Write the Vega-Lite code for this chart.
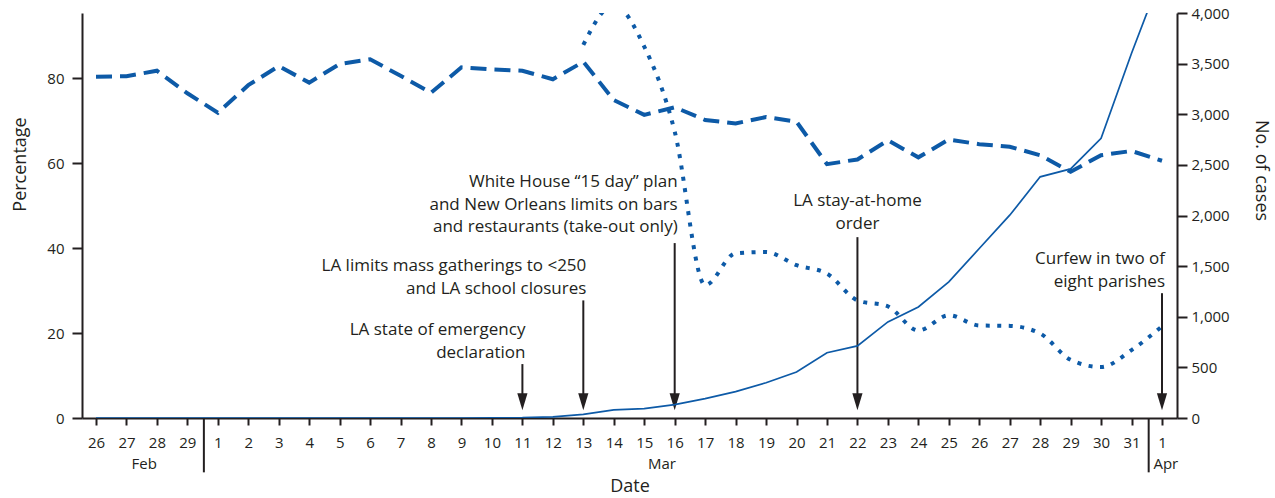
{
  "$schema": "https://vega.github.io/schema/vega-lite/v6.json",
  "width": 1095,
  "height": 405,
  "autosize": {"type": "none"},
  "padding": {"left": 82, "top": 13, "right": 98, "bottom": 80},
  "background": "white",
  "config": {
    "view": {"stroke": null},
    "font": "Open Sans",
    "axis": {
      "grid": false,
      "domainColor": "#231f20",
      "domainWidth": 2,
      "tickColor": "#231f20",
      "tickWidth": 2,
      "labelColor": "#231f20",
      "labelFont": "Open Sans",
      "labelFontSize": 15,
      "titleColor": "#231f20",
      "titleFont": "Open Sans",
      "titleFontSize": 18,
      "titleFontWeight": "normal"
    }
  },
  "datasets": {
    "series": [
      {"date": "2020-02-26", "pctA": 80.4, "pctB": null, "cases": 0},
      {"date": "2020-02-27", "pctA": 80.5, "pctB": null, "cases": 0},
      {"date": "2020-02-28", "pctA": 81.8, "pctB": null, "cases": 0},
      {"date": "2020-02-29", "pctA": 76.5, "pctB": null, "cases": 0},
      {"date": "2020-03-01", "pctA": 71.9, "pctB": null, "cases": 0},
      {"date": "2020-03-02", "pctA": 78.4, "pctB": null, "cases": 0},
      {"date": "2020-03-03", "pctA": 82.9, "pctB": null, "cases": 0},
      {"date": "2020-03-04", "pctA": 79.0, "pctB": null, "cases": 0},
      {"date": "2020-03-05", "pctA": 83.4, "pctB": null, "cases": 0},
      {"date": "2020-03-06", "pctA": 84.5, "pctB": null, "cases": 0},
      {"date": "2020-03-07", "pctA": 80.6, "pctB": null, "cases": 0},
      {"date": "2020-03-08", "pctA": 76.6, "pctB": null, "cases": 0},
      {"date": "2020-03-09", "pctA": 82.6, "pctB": null, "cases": 0},
      {"date": "2020-03-10", "pctA": 82.1, "pctB": null, "cases": 1},
      {"date": "2020-03-11", "pctA": 81.8, "pctB": null, "cases": 3},
      {"date": "2020-03-12", "pctA": 79.8, "pctB": null, "cases": 12},
      {"date": "2020-03-13", "pctA": 83.9, "pctB": 87.9, "cases": 35},
      {"date": "2020-03-14", "pctA": 74.9, "pctB": 97.3, "cases": 80},
      {"date": "2020-03-15", "pctA": 71.4, "pctB": 87.5, "cases": 93},
      {"date": "2020-03-16", "pctA": 73.2, "pctB": 67.5, "cases": 132},
      {"date": "2020-03-17", "pctA": 70.2, "pctB": 31.3, "cases": 192},
      {"date": "2020-03-18", "pctA": 69.4, "pctB": 38.8, "cases": 260},
      {"date": "2020-03-19", "pctA": 70.9, "pctB": 39.1, "cases": 348},
      {"date": "2020-03-20", "pctA": 69.8, "pctB": 36.0, "cases": 455},
      {"date": "2020-03-21", "pctA": 59.8, "pctB": 34.0, "cases": 645},
      {"date": "2020-03-22", "pctA": 60.9, "pctB": 27.7, "cases": 712},
      {"date": "2020-03-23", "pctA": 65.4, "pctB": 26.3, "cases": 949},
      {"date": "2020-03-24", "pctA": 61.4, "pctB": 20.6, "cases": 1097},
      {"date": "2020-03-25", "pctA": 65.6, "pctB": 24.2, "cases": 1344},
      {"date": "2020-03-26", "pctA": 64.5, "pctB": 21.8, "cases": 1674},
      {"date": "2020-03-27", "pctA": 63.9, "pctB": 21.7, "cases": 2003},
      {"date": "2020-03-28", "pctA": 61.9, "pctB": 19.9, "cases": 2382},
      {"date": "2020-03-29", "pctA": 58.0, "pctB": 13.7, "cases": 2460},
      {"date": "2020-03-30", "pctA": 61.9, "pctB": 12.0, "cases": 2762},
      {"date": "2020-03-31", "pctA": 62.9, "pctB": 16.0, "cases": 3602},
      {"date": "2020-04-01", "pctA": 60.6, "pctB": 21.6, "cases": 4390}
    ],
    "events": [
      {"id": "emergency", "date": "2020-03-11", "top": 12.7, "lines": 2, "label": "LA state of emergency\ndeclaration"},
      {"id": "gatherings", "date": "2020-03-13", "top": 27.7, "lines": 2, "label": "LA limits mass gatherings to <250\nand LA school closures"},
      {"id": "whitehouse", "date": "2020-03-16", "top": 41.2, "lines": 3, "label": "White House “15 day” plan\nand New Orleans limits on bars\nand restaurants (take-out only)"},
      {"id": "stayhome", "date": "2020-03-22", "top": 42.6, "lines": 2, "label": "LA stay-at-home\norder"},
      {"id": "curfew", "date": "2020-04-01", "top": 29.4, "lines": 2, "label": "Curfew in two of\neight parishes"}
    ],
    "months": [
      {"date": "2020-02-27T14:00:00Z", "month": "Feb"},
      {"date": "2020-03-15T14:00:00Z", "month": "Mar"},
      {"date": "2020-04-01T03:00:00Z", "month": "Apr"}
    ],
    "dividers": [
      {"date": "2020-02-29T13:00:00Z"},
      {"date": "2020-03-31T13:30:00Z"}
    ]
  },
  "layer": [
    {
      "layer": [
        {
          "data": {"name": "series"},
          "mark": {"type": "line", "color": "#0d5aa7", "strokeWidth": 4, "strokeDash": [16, 8], "clip": true},
          "encoding": {
            "x": {
              "field": "date", "type": "temporal", "title": "Date",
              "scale": {"type": "utc", "domain": [
                {"year": 2020, "month": 2, "date": 25, "hours": 12, "minutes": 58, "utc": true},
                {"year": 2020, "month": 4, "date": 1, "hours": 11, "minutes": 49, "utc": true}
              ]},
              "axis": {
                "orient": "bottom",
                "tickCount": {"interval": "day", "step": 1},
                "labelExpr": "utcFormat(datum.value, '%-d')",
                "tickSize": 7,
                "labelPadding": 10,
                "labelOverlap": false,
                "labelFlush": false,
                "titlePadding": 27
              }
            },
            "y": {
              "field": "pctA", "type": "quantitative", "title": "Percentage",
              "scale": {"domain": [0, 95.4], "nice": false, "zero": false},
              "axis": {
                "orient": "left",
                "values": [0, 20, 40, 60, 80],
                "tickSize": 10,
                "labelPadding": 8,
                "titlePadding": 17,
                "titleY": 151
              }
            }
          }
        },
        {
          "data": {"name": "series"},
          "mark": {"type": "line", "color": "#0d5aa7", "strokeWidth": 4, "strokeDash": [4, 7.5], "interpolate": "monotone", "clip": true},
          "encoding": {
            "x": {"field": "date", "type": "temporal"},
            "y": {"field": "pctB", "type": "quantitative"}
          }
        },
        {
          "data": {"name": "dividers"},
          "mark": {"type": "rule", "color": "#231f20", "strokeWidth": 2},
          "encoding": {
            "x": {"field": "date", "type": "temporal"},
            "y": {"datum": 0},
            "y2": {"datum": -12.8}
          }
        },
        {
          "data": {"name": "months"},
          "mark": {"type": "text", "color": "#231f20", "fontSize": 15, "baseline": "middle", "align": "center"},
          "encoding": {
            "x": {"field": "date", "type": "temporal"},
            "y": {"datum": -10.75},
            "text": {"field": "month"}
          }
        },
        {
          "data": {"name": "events"},
          "mark": {"type": "rule", "color": "#231f20", "strokeWidth": 2},
          "encoding": {
            "x": {"field": "date", "type": "temporal"},
            "y": {"field": "top", "type": "quantitative"},
            "y2": {"datum": 4}
          }
        },
        {
          "data": {"name": "events"},
          "mark": {"type": "point", "shape": "M-0.6,-1L0.6,-1L0,1Z", "size": 289, "filled": true, "color": "#231f20", "opacity": 1},
          "encoding": {
            "x": {"field": "date", "type": "temporal"},
            "y": {"datum": 3.8}
          }
        },
        {
          "data": {"name": "events"},
          "transform": [{"filter": "datum.id !== 'stayhome' && datum.lines === 2"}],
          "mark": {"type": "text", "color": "#231f20", "fontSize": 17, "lineBreak": "\n", "lineHeight": 22.5, "align": "right", "baseline": "bottom", "dx": 3, "dy": -25},
          "encoding": {
            "x": {"field": "date", "type": "temporal"},
            "y": {"field": "top", "type": "quantitative"},
            "text": {"field": "label"}
          }
        },
        {
          "data": {"name": "events"},
          "transform": [{"filter": "datum.lines === 3"}],
          "mark": {"type": "text", "color": "#231f20", "fontSize": 17, "lineBreak": "\n", "lineHeight": 22.5, "align": "right", "baseline": "bottom", "dx": 3, "dy": -52},
          "encoding": {
            "x": {"field": "date", "type": "temporal"},
            "y": {"field": "top", "type": "quantitative"},
            "text": {"field": "label"}
          }
        },
        {
          "data": {"name": "events"},
          "transform": [{"filter": "datum.id === 'stayhome'"}],
          "mark": {"type": "text", "color": "#231f20", "fontSize": 17, "lineBreak": "\n", "lineHeight": 22.5, "align": "center", "baseline": "bottom", "dy": -27},
          "encoding": {
            "x": {"field": "date", "type": "temporal"},
            "y": {"field": "top", "type": "quantitative"},
            "text": {"field": "label"}
          }
        }
      ]
    },
    {
      "data": {"name": "series"},
      "mark": {"type": "line", "color": "#0d5aa7", "strokeWidth": 1.7, "clip": true},
      "encoding": {
        "x": {"field": "date", "type": "temporal"},
        "y": {
          "field": "cases", "type": "quantitative", "title": "No. of cases",
          "scale": {"domain": [0, 4000], "nice": false},
          "axis": {
            "orient": "right",
            "values": [0, 500, 1000, 1500, 2000, 2500, 3000, 3500, 4000],
            "format": ",d",
            "tickSize": 10,
            "labelPadding": 4,
            "titlePadding": 22,
            "titleY": 157
          }
        }
      }
    }
  ],
  "resolve": {"scale": {"y": "independent"}}
}
